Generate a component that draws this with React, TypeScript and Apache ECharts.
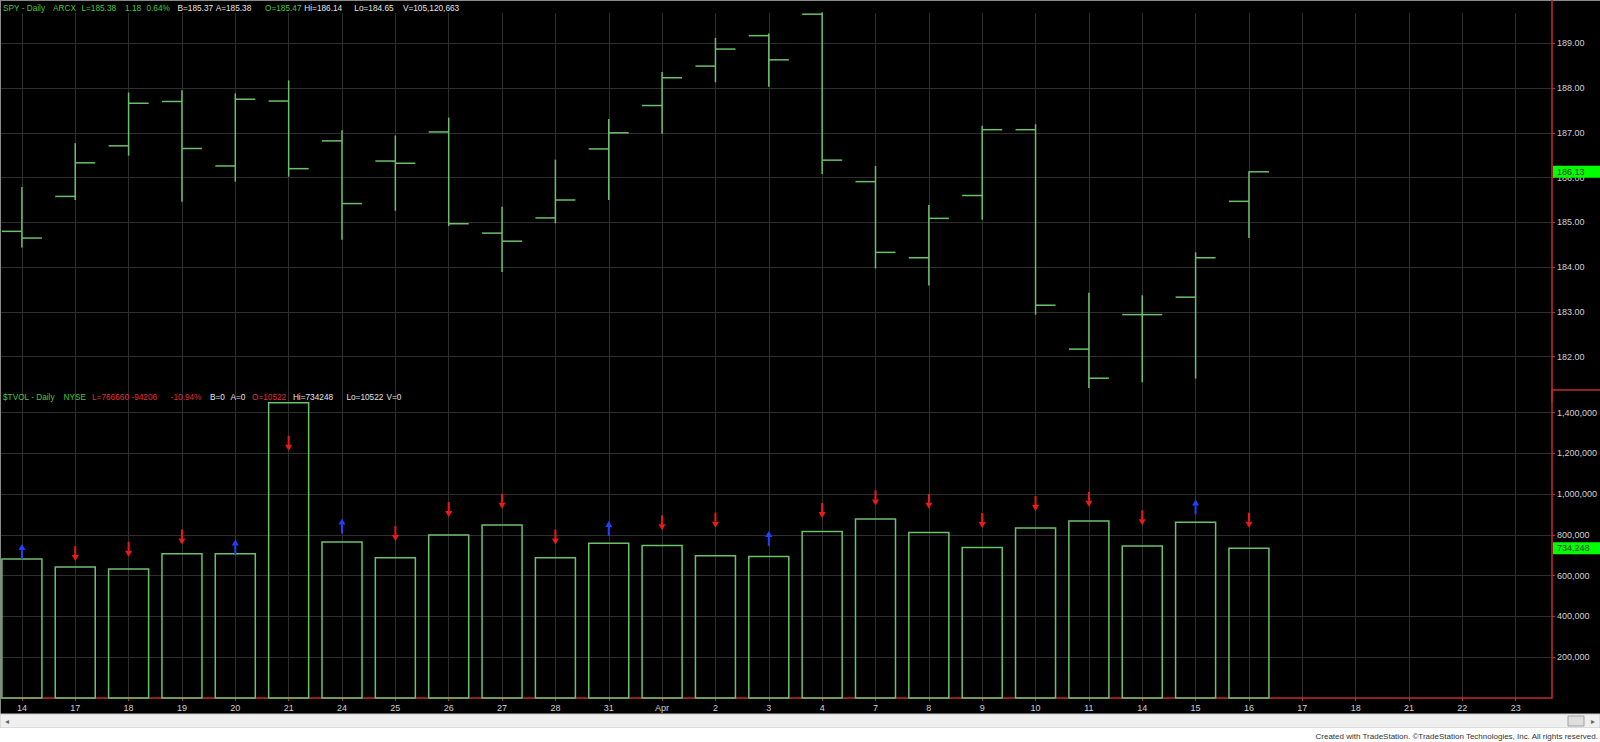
import React, { useEffect, useRef } from 'react';
import * as echarts from 'echarts';

// ---------- DATA ----------
const categories = ['14', '17', '18', '19', '20', '21', '24', '25', '26', '27', '28', '31', 'Apr', '2', '3', '4', '7', '8', '9', '10', '11', '14', '15', '16', '17', '18', '21', '22', '23'];

const opens = [184.80, 185.58, 186.71, 187.70, 186.26, 187.71, 186.82, 186.37, 187.02, 184.76, 185.10, 186.64, 187.61, 188.49, 189.17, 189.65, 185.91, 184.21, 185.60, 187.07, 182.17, 182.94, 183.33, 185.47];
const highs = [185.79, 186.77, 187.90, 187.95, 187.88, 188.17, 187.06, 186.94, 187.34, 185.35, 186.40, 187.31, 188.36, 189.12, 189.22, 189.69, 186.26, 185.39, 187.16, 187.19, 183.43, 183.37, 184.33, 186.14];
const lows = [184.44, 185.50, 186.49, 185.46, 185.91, 186.02, 184.61, 185.26, 184.92, 183.89, 184.98, 185.50, 186.98, 188.13, 188.03, 186.08, 183.97, 183.59, 185.06, 182.94, 181.30, 181.43, 181.51, 184.65];
const closes = [184.65, 186.33, 187.66, 186.65, 187.75, 186.20, 185.42, 186.32, 184.97, 184.58, 185.50, 187.00, 188.23, 188.87, 188.63, 186.39, 184.33, 185.09, 187.07, 183.15, 181.52, 182.94, 184.21, 186.13];

const volumes = [681300, 642300, 632500, 707300, 707300, 1448800, 765800, 687800, 800000, 848800, 687800, 759300, 748000, 697600, 694300, 816300, 878000, 811400, 738200, 834100, 868300, 746300, 861800, 734248];

const arrowDirs = ['up', 'down', 'down', 'down', 'up', 'down', 'up', 'down', 'down', 'down', 'down', 'up', 'down', 'down', 'up', 'down', 'down', 'down', 'down', 'down', 'down', 'down', 'up', 'down'];
const arrowLevels = [681300, 671500, 692700, 752800, 704100, 1213000, 806500, 770700, 887800, 928400, 752800, 795100, 822800, 835800, 746300, 882900, 944700, 928400, 834100, 917100, 938200, 847100, 900800, 835800];

const spyHeader = ['SPY - Daily', 'ARCX', 'L=185.38', '1.18', '0.64%', 'B=185.37', 'A=185.38', 'O=185.47', 'Hi=186.14', 'Lo=184.65', 'V=105,120,663'];
const volHeader = ['$TVOL - Daily', 'NYSE', 'L=766660', '-94206', '-10.94%', 'B=0', 'A=0', 'O=10522', 'Hi=734248', 'Lo=10522', 'V=0'];
const creditText = 'Created with TradeStation. \u00A9TradeStation Technologies, Inc. All rights reserved.';

// ---------- LAYOUT / STYLE ----------
const FONT = '"Liberation Sans", Arial, sans-serif';
const GREEN_BAR = '#6cc06c';
const GRID = '#2e2e2e';
const RED = '#c42a2a';
const LABEL = '#d2d2d2';
const HG = '#44c844';
const HW = '#e4e4e4';
const HR = '#e23030';
const ARROW_RED = '#ee1a1a';
const ARROW_BLUE = '#2040ff';

const AXIS_X = 1552;
const DATA_LEFT = 21.9;
const BAND = 53.35;
const DATA_WIDTH = BAND * (categories.length - 1);
const TOP_TOP = 13;
const TOP_H = 388.5;
const PRICE_MIN = 181;
const PRICE_MAX = 189.676;
const VOL_TOP = 390;
const VOL_H = 308;
const VOL_MAX = 1511000;
const LABEL_DIST = AXIS_X + 1 - (DATA_LEFT + DATA_WIDTH);
const HEADER_SCALE = 0.92;

const spyHeaderX = [3, 53, 81.4, 125, 146.4, 177.5, 215.7, 265, 304.3, 354.3, 402.9];
const spyHeaderC = [HG, HG, HG, HG, HG, HW, HW, HG, HW, HW, HW];
const volHeaderX = [3, 63.6, 92, 131.4, 170.7, 210, 230.4, 252, 292.9, 346.4, 386.4];
const volHeaderC = [HG, HG, HR, HR, HR, HW, HW, HR, HW, HW, HW];

const lastLabel = (text: string) => ({
  show: true, position: 'end', distance: LABEL_DIST,
  formatter: text,
  backgroundColor: '#00ff00', color: '#333', fontSize: 9, fontFamily: FONT,
  padding: [2, 6, 1, 4], width: 37,
});

export default function App() {
  const ref = useRef<HTMLDivElement>(null);

  useEffect(() => {
    if (!ref.current) return;
    const chart = echarts.init(ref.current, undefined, { renderer: 'svg' });

    const ohlcData = opens.map((o, i) => [i, o, highs[i], lows[i], closes[i]]);
    const volData = volumes.map((v, i) => [i, v]);
    const arrowData = arrowLevels.map((v, i) => [i, v, arrowDirs[i] === 'up' ? 1 : 0]);
    const lastClose = closes[closes.length - 1];
    const lastVol = volumes[volumes.length - 1];

    const headerTexts: any[] = [];
    spyHeader.forEach((t, i) => headerTexts.push({
      type: 'text', x: spyHeaderX[i], y: 8, z: 50, scaleX: HEADER_SCALE,
      style: { text: t, fill: spyHeaderC[i], font: `9px ${FONT}`, verticalAlign: 'middle' },
    }));
    volHeader.forEach((t, i) => headerTexts.push({
      type: 'text', x: volHeaderX[i], y: 396.5, z: 50, scaleX: HEADER_SCALE,
      style: { text: t, fill: volHeaderC[i], font: `9px ${FONT}`, verticalAlign: 'middle' },
    }));

    const option: any = {
      animation: false,
      backgroundColor: '#000',
      grid: [
        { left: 0, top: TOP_TOP, width: AXIS_X, height: TOP_H },
        { left: DATA_LEFT, top: TOP_TOP, width: DATA_WIDTH, height: TOP_H },
        { left: 0, top: VOL_TOP, width: AXIS_X, height: VOL_H },
        { left: DATA_LEFT, top: VOL_TOP, width: DATA_WIDTH, height: VOL_H },
      ],
      xAxis: [
        { gridIndex: 0, type: 'value', min: 0, max: 1, show: false },
        {
          gridIndex: 1, type: 'category', data: categories, boundaryGap: false,
          axisLine: { show: false }, axisTick: { show: false }, axisLabel: { show: false },
          splitLine: { show: true, interval: 0, lineStyle: { color: GRID, width: 1 } },
        },
        {
          gridIndex: 2, type: 'value', min: 0, max: 1,
          axisLine: { show: true, onZero: false, lineStyle: { color: RED, width: 1.5 } },
          axisTick: { show: false }, axisLabel: { show: false }, splitLine: { show: false },
        },
        {
          gridIndex: 3, type: 'category', data: categories, boundaryGap: false,
          axisLine: { show: false, onZero: false },
          axisTick: { show: true, interval: 0, length: 3, lineStyle: { color: RED } },
          axisLabel: { interval: 0, color: LABEL, fontSize: 9, fontFamily: FONT, margin: 5 },
          splitLine: { show: true, interval: 0, lineStyle: { color: GRID, width: 1 } },
        },
      ],
      yAxis: [
        {
          gridIndex: 0, type: 'value', position: 'right', min: PRICE_MIN, max: PRICE_MAX, interval: 1,
          axisLine: { show: true, onZero: false, lineStyle: { color: RED, width: 1.5 } },
          axisTick: { show: true, length: 3, lineStyle: { color: RED } },
          axisLabel: {
            color: LABEL, fontSize: 9, fontFamily: FONT, margin: 5,
            showMinLabel: false, showMaxLabel: false,
            formatter: (v: number) => v.toFixed(2),
          },
          splitLine: { show: true, showMinLine: false, showMaxLine: false, lineStyle: { color: GRID, width: 1 } },
        },
        { gridIndex: 1, type: 'value', min: PRICE_MIN, max: PRICE_MAX, show: false },
        {
          gridIndex: 2, type: 'value', position: 'right', min: 0, max: VOL_MAX, interval: 200000,
          axisLine: { show: true, onZero: false, lineStyle: { color: RED, width: 1.5 } },
          axisTick: { show: true, length: 3, lineStyle: { color: RED } },
          axisLabel: {
            color: LABEL, fontSize: 9, fontFamily: FONT, margin: 5,
            showMinLabel: false, showMaxLabel: false,
            formatter: (v: number) => v.toLocaleString('en-US'),
          },
          splitLine: { show: true, showMinLine: false, showMaxLine: false, lineStyle: { color: GRID, width: 1 } },
        },
        { gridIndex: 3, type: 'value', min: 0, max: VOL_MAX, show: false },
      ],
      series: [
        {
          type: 'custom', name: 'SPY', xAxisIndex: 1, yAxisIndex: 1, clip: false,
          data: ohlcData, encode: { x: 0, y: [1, 2, 3, 4] },
          renderItem: (params: any, api: any) => {
            const i = api.value(0);
            const o = api.coord([i, api.value(1)]);
            const h = api.coord([i, api.value(2)]);
            const l = api.coord([i, api.value(3)]);
            const c = api.coord([i, api.value(4)]);
            const w = api.size([1, 0])[0] * 0.375;
            const st = { stroke: GREEN_BAR, lineWidth: 1.5 };
            return {
              type: 'group',
              children: [
                { type: 'line', shape: { x1: h[0], y1: h[1], x2: l[0], y2: l[1] }, style: st },
                { type: 'line', shape: { x1: o[0] - w, y1: o[1], x2: o[0], y2: o[1] }, style: st },
                { type: 'line', shape: { x1: c[0], y1: c[1], x2: c[0] + w, y2: c[1] }, style: st },
              ],
            };
          },
          markLine: {
            silent: true, symbol: ['none', 'none'], animation: false, z: 10,
            lineStyle: { color: 'rgba(0,0,0,0)', width: 0 },
            label: lastLabel(lastClose.toFixed(2)),
            data: [{ yAxis: lastClose }],
          },
        },
        {
          type: 'custom', name: '$TVOL', xAxisIndex: 3, yAxisIndex: 3, clip: false,
          data: volData, encode: { x: 0, y: 1 },
          renderItem: (params: any, api: any) => {
            const i = api.value(0);
            const top = api.coord([i, api.value(1)]);
            const bot = api.coord([i, 0]);
            const w = api.size([1, 0])[0] * 0.75;
            return {
              type: 'rect',
              shape: { x: top[0] - w / 2, y: top[1], width: w, height: bot[1] - top[1] },
              style: { fill: 'none', stroke: GREEN_BAR, lineWidth: 1.5 },
            };
          },
          markLine: {
            silent: true, symbol: ['none', 'none'], animation: false, z: 10,
            lineStyle: { color: 'rgba(0,0,0,0)', width: 0 },
            label: lastLabel(lastVol.toLocaleString('en-US')),
            data: [{ yAxis: lastVol }],
          },
        },
        {
          type: 'custom', name: 'arrows', xAxisIndex: 3, yAxisIndex: 3, clip: false,
          data: arrowData, encode: { x: 0, y: 1 },
          renderItem: (params: any, api: any) => {
            const i = api.value(0);
            const p = api.coord([i, api.value(1)]);
            const up = api.value(2) === 1;
            const x = p[0], yb = p[1];
            const len = 15, head = 6, hw = 3.5;
            const color = up ? ARROW_BLUE : ARROW_RED;
            if (up) {
              return {
                type: 'group', children: [
                  { type: 'line', shape: { x1: x, y1: yb, x2: x, y2: yb - len + head }, style: { stroke: color, lineWidth: 2 } },
                  { type: 'polygon', shape: { points: [[x - hw, yb - len + head], [x + hw, yb - len + head], [x, yb - len]] }, style: { fill: color } },
                ],
              };
            }
            return {
              type: 'group', children: [
                { type: 'line', shape: { x1: x, y1: yb - len, x2: x, y2: yb - head }, style: { stroke: color, lineWidth: 2 } },
                { type: 'polygon', shape: { points: [[x - hw, yb - head], [x + hw, yb - head], [x, yb]] }, style: { fill: color } },
              ],
            };
          },
        },
      ],
      graphic: [
        { type: 'line', z: 60, shape: { x1: 0, y1: 0.5, x2: 1600, y2: 0.5 }, style: { stroke: '#8a8a8a', lineWidth: 1 } },
        { type: 'line', z: 60, shape: { x1: 0.5, y1: 0, x2: 0.5, y2: 714 }, style: { stroke: '#8a8a8a', lineWidth: 1 } },
        { type: 'line', z: 60, shape: { x1: AXIS_X, y1: 0, x2: AXIS_X, y2: TOP_TOP }, style: { stroke: RED, lineWidth: 1.5 } },
        { type: 'line', z: 60, shape: { x1: AXIS_X, y1: VOL_TOP, x2: 1600, y2: VOL_TOP }, style: { stroke: RED, lineWidth: 1.5 } },
        ...headerTexts,
        { type: 'rect', z: 70, shape: { x: 0, y: 714, width: 1600, height: 14 }, style: { fill: '#efefef', stroke: '#c8c8c8', lineWidth: 1 } },
        { type: 'rect', z: 70, shape: { x: 0, y: 728, width: 1600, height: 14 }, style: { fill: '#ffffff' } },
        { type: 'rect', z: 71, shape: { x: 1568, y: 716, width: 16, height: 10 }, style: { fill: '#dedede', stroke: '#a0a0a0', lineWidth: 1 } },
        { type: 'text', z: 71, x: 5, y: 721, style: { text: '\u25C2', fill: '#666', font: `8px ${FONT}`, verticalAlign: 'middle' } },
        { type: 'text', z: 71, x: 1591, y: 721, style: { text: '\u25B8', fill: '#666', font: `8px ${FONT}`, verticalAlign: 'middle' } },
        { type: 'text', z: 71, x: 1598, y: 736, style: { text: creditText, fill: '#333', font: `8px ${FONT}`, align: 'right', verticalAlign: 'middle' } },
      ],
    };

    chart.setOption(option);
    return () => chart.dispose();
  }, []);

  return <div ref={ref} style={{ position: 'fixed', left: 0, top: 0, width: 1600, height: 742 }} />;
}
